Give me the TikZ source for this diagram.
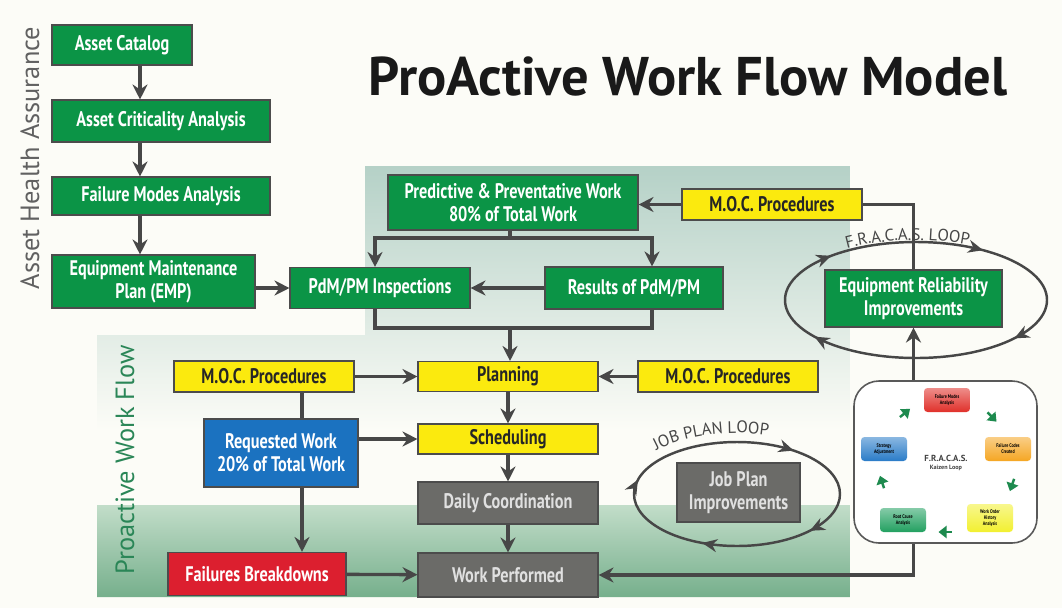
\documentclass[tikz,border=0pt]{standalone}
\usepackage{fontspec}
\setmainfont{PT Sans}
\setsansfont{PT Sans}
\newfontfamily\boxfont{PT Sans}[FakeStretch=0.77]
\usepackage{tikz}
\usetikzlibrary{arrows.meta,decorations.markings,decorations.text}

\definecolor{paper}{HTML}{FCFCF7}
\definecolor{bgteal}{HTML}{B5D1C7}
\definecolor{bglight}{HTML}{C2DDC9}
\definecolor{bgdark}{HTML}{76AF8C}
\definecolor{boxgreen}{HTML}{0B9446}
\definecolor{boxyellow}{HTML}{FBEA0E}
\definecolor{boxblue}{HTML}{1B72C0}
\definecolor{boxred}{HTML}{DC1F2F}
\definecolor{boxgray}{HTML}{6B6B68}
\definecolor{linegray}{HTML}{474747}
\definecolor{flowgreen}{HTML}{2A8657}
\definecolor{arrgreen}{HTML}{1D8A4E}
\definecolor{tred}{HTML}{E0302A}
\definecolor{torange}{HTML}{F5A623}
\definecolor{tyellow}{HTML}{F2F030}
\definecolor{tgreen}{HTML}{22A060}
\definecolor{tblue}{HTML}{2A7CC8}

\begin{document}
\begin{tikzpicture}[x=0.2mm, y=-0.2mm,
    box/.style={draw=black!70, line width=0.6pt, inner sep=1pt, align=center,
      font=\boxfont\bfseries\fontsize{12}{13}\selectfont},
    sz/.style 2 args={minimum width=#1*0.2mm, minimum height=#2*0.2mm},
    gbox/.style={box, fill=boxgreen, text=white},
    ybox/.style={box, fill=boxyellow, text=black!85},
    bbox/.style={box, fill=boxblue, text=white},
    rbox/.style={box, fill=boxred, text=white},
    kbox/.style={box, fill=boxgray, text=white!88!black},
    arr/.style={draw=linegray, line width=1.9pt,
      -{Stealth[length=3mm, width=3mm, inset=1mm]}},
    conn/.style={draw=linegray, line width=1.9pt},
    loopline/.style n args={4}{draw=linegray, line width=1.4pt, postaction={decorate},
      decoration={markings,
        mark=at position #1 with {\arrowreversed{Stealth[length=3mm, width=2.6mm]}},
        mark=at position #2 with {\arrowreversed{Stealth[length=3mm, width=2.6mm]}},
        mark=at position #3 with {\arrowreversed{Stealth[length=3mm, width=2.6mm]}},
        mark=at position #4 with {\arrowreversed{Stealth[length=3mm, width=2.6mm]}}}},
    looptext/.style={decorate, decoration={text along path, text align=center,
      text={|\fontsize{9.5}{10}\selectfont\color{linegray}|#1}}},
    tiny/.style={rounded corners=2pt, align=center, inner sep=0.5pt, sz={46}{24},
      font=\boxfont\bfseries\fontsize{3}{3.4}\selectfont},
    smallarr/.style={draw=arrgreen, line width=1.4pt, -{Triangle[length=1.6mm, width=2.4mm]}},
]
    % Hintergrund.
    \fill[paper] (0,0) rectangle (1062,608);
    \begin{scope}
        \clip (365,166) -- (850,166) -- (850,597) -- (97,597) -- (97,335) -- (365,335) -- cycle;
        \shade[top color=bgteal, bottom color=paper] (97,166) rectangle (850,430);
        \fill[paper] (97,429) rectangle (850,506);
        \shade[top color=bglight, bottom color=bgdark] (97,505) rectangle (850,597);
    \end{scope}

    % Titel.
    \node[font=\bfseries\fontsize{31}{34}\selectfont, text=black!90] (title) at (688,77) {ProActive Work Flow Model};
    \node[rotate=90, font=\fontsize{15}{16}\selectfont, text=black!62] (health) at (30,158) {Asset Health Assurance};
    \node[rotate=90, font=\fontsize{15}{16}\selectfont, text=flowgreen] (proflow) at (125,460) {Proactive Work Flow};

    % Kaesten.
    \node[gbox, sz={140}{40}] (catalog) at (122,45) {Asset Catalog};
    \node[gbox, sz={218}{42}] (critical) at (161,121) {Asset Criticality Analysis};
    \node[gbox, sz={218}{38}] (modes) at (161,196) {Failure Modes Analysis};
    \node[gbox, sz={203}{53}] (emp) at (153.5,281.5) {Equipment Maintenance\\Plan (EMP)};
    \node[gbox, sz={250}{55}] (pred) at (513,202.5) {Predictive \& Preventative Work\\80\% of Total Work};
    \node[ybox, sz={180}{31}] (mocT) at (772,204.5) {M.O.C. Procedures};
    \node[gbox, sz={180}{41}] (insp) at (380,288) {PdM/PM Inspections};
    \node[gbox, sz={178}{42}] (res) at (634,288) {Results of PdM/PM};
    \node[ybox, sz={180}{31}] (mocL) at (264,376.5) {M.O.C. Procedures};
    \node[ybox, sz={180}{30}] (plan) at (508,376.5) {Planning};
    \node[ybox, sz={180}{31}] (mocR) at (728,376.5) {M.O.C. Procedures};
    \node[ybox, sz={180}{30}] (sched) at (508,439) {Scheduling};
    \node[bbox, sz={154}{68}] (reqw) at (281,453) {Requested Work\\20\% of Total Work};
    \node[kbox, sz={180}{42}] (daily) at (508,503) {Daily Coordination};
    \node[kbox, sz={180}{44}] (work) at (508,575) {Work Performed};
    \node[rbox, sz={178}{43}] (fail) at (257,574) {Failures Breakdowns};
    \node[gbox, sz={177}{57}] (reliab) at (913.5,298.5) {Equipment Reliability\\Improvements};
    \node[kbox, sz={123}{59}] (jobplan) at (738.5,492.5) {Job Plan\\Improvements};

    % FRACAS.
    \node[draw=black!65, line width=0.9pt, rounded corners=5mm, fill=white, sz={183}{162}] (panel) at (945.5,462) {};
    \node[tiny, top color=tred!55!white, bottom color=tred] (tmodes) at (947,400) {Failure Modes\\Analysis};
    \node[tiny, top color=torange!55!white, bottom color=torange] (tcodes) at (1008,449) {Failure Codes\\Created};
    \node[tiny, top color=tyellow!55!white, bottom color=tyellow, sz={46}{28}] (thistory) at (990,518) {Work Order\\History\\Analysis};
    \node[tiny, top color=tgreen!55!white, bottom color=tgreen] (tcause) at (903,520) {Root Cause\\Analysis};
    \node[tiny, top color=tblue!55!white, bottom color=tblue] (tstrat) at (884,449) {Strategy\\Adjustment};
    \node[align=center, font=\fontsize{5}{5.5}\selectfont\bfseries, text=black!75] (fracas) at (946,463) {F.R.A.C.A.S.\\[-1pt]{\fontsize{3.5}{4}\selectfont Kaizen Loop}};
    \foreach \px/\py/\d in {905/413/39, 992/417/-46, 1012/485/-109, 945/532/180, 882/482/108}
    {
        \draw[smallarr] (\px,\py) ++(\d+180:1.3mm) -- ++(\d:2.6mm);
    }

    % Schleifen.
    \draw[loopline={0.14}{0.39}{0.58}{0.914}] (916,300) ellipse [x radius=2.62cm, y radius=1.16cm];
    \path[looptext={F.R.A.C.A.S. LOOP}] (916,300) ++(146:2.66cm and 1.2cm)
        arc [start angle=146, end angle=44, x radius=2.66cm, y radius=1.2cm];
    \draw[loopline={0.135}{0.47}{0.68}{0.90}] (737,494) ellipse [x radius=2.06cm, y radius=1.04cm];
    \path[looptext={JOB PLAN LOOP}] (737,494) ++(150:2.3cm and 1.22cm)
        arc [start angle=150, end angle=62, x radius=2.3cm, y radius=1.22cm];

    % Verbindungen.
    \coordinate (col) at (140,0);
    \foreach \a/\b in {catalog/critical, critical/modes, modes/emp}
    {
        \draw[arr] (\a.south -| col) -- (\b.north -| col);
    }
    \draw[arr] (emp.east |- insp) -- (insp);

    \coordinate (jtop) at (510,238);
    \coordinate (jbot) at (510,328);
    \draw[conn] (pred.south -| jtop) -- (jtop);
    \draw[arr] (jtop) -| ([xshift=-1mm]insp.north);
    \draw[arr] (jtop) -| ([xshift=3.6mm]res.north);
    \draw[arr] (res) -- (insp);
    \draw[conn] ([xshift=-1mm]insp.south) |- (jbot) -| ([xshift=3.6mm]res.south);
    \draw[arr] (jbot) -- (plan.north -| jbot);
    \draw[arr] (mocT) -- (pred.east |- mocT);
    \draw[conn] (reliab.north) |- (mocT.east);

    \draw[arr] (mocL) -- (plan);
    \draw[arr] (mocR) -- (plan);
    \draw[arr] (plan) -- (sched);
    \draw[arr] (sched) -- (daily);
    \draw[arr] (daily) -- (work);
    \draw[arr] (reqw.east |- sched) -- (sched);
    \coordinate (colL) at (302,0);
    \draw[conn] (mocL.south -| colL) -- (reqw.north -| colL);
    \draw[arr] (reqw.south -| colL) -- (fail.north -| colL);
    \draw[arr] (fail) -- (work);

    \draw[arr] (panel.north -| reliab) -- (reliab);
    \draw[arr] (panel.south -| reliab) |- (work.east);
\end{tikzpicture}
\end{document}
